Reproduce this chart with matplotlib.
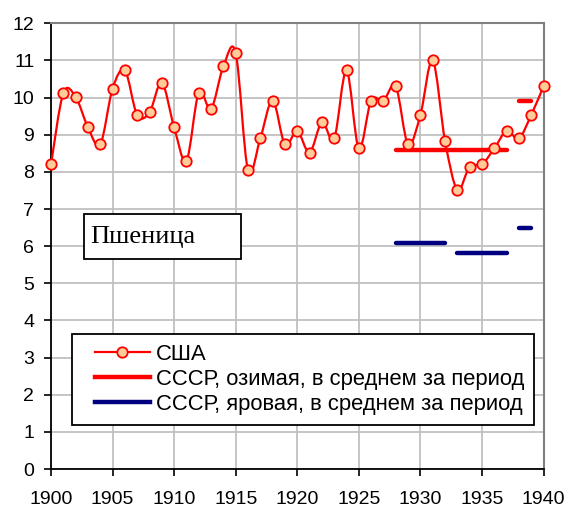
import numpy as np
import matplotlib
matplotlib.use("Agg")
import matplotlib.pyplot as plt
from matplotlib.path import Path
from matplotlib.patches import PathPatch, Rectangle
from matplotlib.lines import Line2D
from matplotlib.legend_handler import HandlerLine2D

plt.rcParams['font.family'] = ['Liberation Sans', 'DejaVu Sans']

years = list(range(1900, 1941))
usa = [8.2, 10.12, 10.02, 9.2, 8.74, 10.24, 10.73, 9.53, 9.6, 10.4,
       9.2, 8.3, 10.13, 9.7, 10.84, 11.2, 8.04, 8.9, 9.92, 8.74,
       9.1, 8.52, 9.33, 8.9, 10.73, 8.63, 9.92, 9.92, 10.3, 8.74,
       9.53, 11.0, 8.84, 7.52, 8.14, 8.2, 8.63, 9.1, 8.9, 9.53, 10.3]

winter_periods = [(1928, 1937), (1938, 1939)]
winter_values = [8.6, 9.9]
spring_periods = [(1928, 1932), (1933, 1937), (1938, 1939)]
spring_values = [6.08, 5.81, 6.5]

yticks = list(range(0, 13))
xticks = list(range(1900, 1941, 5))

W, H = 568, 508
L, R, T, B = 51, 543.5, 23.3, 469
fig = plt.figure(figsize=(W / 100, H / 100), dpi=100)
ax = fig.add_axes([L / W, 1 - B / H, (R - L) / W, (B - T) / H])
ax.set_xlim(1900, 1940)
ax.set_ylim(0, 12)
ax.set_xticks(xticks)
ax.set_yticks(yticks)
ax.grid(True, color='#c0c0c0', linewidth=1.3)
ax.set_axisbelow(True)
for s in ['left', 'bottom']:
    ax.spines[s].set_color('black')
    ax.spines[s].set_linewidth(1.3)
for s in ['top', 'right']:
    ax.spines[s].set_color('#808080')
    ax.spines[s].set_linewidth(1.5)
ax.tick_params(axis='both', direction='out', length=5, width=1.2, labelsize=14, colors='black')
ax.tick_params(axis='x', pad=11)
ax.tick_params(axis='y', pad=7)

# smoothed line (Excel-style Catmull-Rom bezier)
x = np.array(years, dtype=float)
y = np.array(usa, dtype=float)
n = len(x)
verts = [(x[0], y[0])]
codes = [Path.MOVETO]
for i in range(n - 1):
    p0 = np.array([x[max(i - 1, 0)], y[max(i - 1, 0)]])
    p1 = np.array([x[i], y[i]])
    p2 = np.array([x[i + 1], y[i + 1]])
    p3 = np.array([x[min(i + 2, n - 1)], y[min(i + 2, n - 1)]])
    c1 = p1 + (p2 - p0) / 6
    c2 = p2 - (p3 - p1) / 6
    verts += [tuple(c1), tuple(c2), tuple(p2)]
    codes += [Path.CURVE4] * 3
ax.add_patch(PathPatch(Path(verts, codes), facecolor='none', edgecolor='red', linewidth=1.6, zorder=3))
ax.plot(x, y, linestyle='none', marker='o', markersize=7.5, markerfacecolor='#ffcc99',
        markeredgecolor='red', markeredgewidth=1.3, zorder=4, clip_on=False)

for (a, b), v in zip(winter_periods, winter_values):
    ax.plot([a, b], [v, v], color='red', linewidth=3.2, solid_capstyle='round', zorder=3)
for (a, b), v in zip(spring_periods, spring_values):
    ax.plot([a, b], [v, v], color='#000080', linewidth=3.2, solid_capstyle='round', zorder=3)

# title box (axes-fraction placement)
def fx(px):
    return (px - L) / (R - L)
def fy(py):
    return (B - py) / (B - T)

ax.add_patch(Rectangle((fx(84), fy(259.3)), fx(240.7) - fx(84), fy(214) - fy(259.3),
                       transform=ax.transAxes, facecolor='white', edgecolor='black',
                       linewidth=1.3, zorder=5))
ax.text(fx(90), fy(237), 'Пшеница', transform=ax.transAxes,
        family=['Liberation Serif', 'DejaVu Serif'], fontsize=19,
        ha='left', va='center', zorder=6)


class ShiftHandler(HandlerLine2D):
    def __init__(self, frac=0.2, **kw):
        super().__init__(**kw)
        self.frac = frac

    def create_artists(self, legend, orig_handle, xdescent, ydescent, width, height, fontsize, trans):
        off = width * self.frac
        return super().create_artists(legend, orig_handle, xdescent - off, ydescent,
                                      width - off, height, fontsize, trans)


handles = [
    Line2D([], [], color='red', linewidth=1.6, marker='o', markersize=7.5,
           markerfacecolor='#ffcc99', markeredgecolor='red', markeredgewidth=1.3),
    Line2D([], [], color='red', linewidth=3.2),
    Line2D([], [], color='#000080', linewidth=3.2),
]
labels = ['США', 'СССР, озимая, в среднем за период', 'СССР, яровая, в среднем за период']
hm = {h: ShiftHandler(frac=0.2, numpoints=1) for h in handles}
leg = ax.legend(handles, labels, loc='upper left', bbox_to_anchor=(fx(71.7), fy(334)),
                fontsize=15.8, frameon=True, fancybox=False, edgecolor='black', framealpha=1,
                borderpad=0.45, labelspacing=0.18, handlelength=3.1, handletextpad=0.3,
                borderaxespad=0, handler_map=hm)
leg.get_frame().set_linewidth(1.3)
leg.set_zorder(7)

fig.savefig('out.png', dpi=100)
